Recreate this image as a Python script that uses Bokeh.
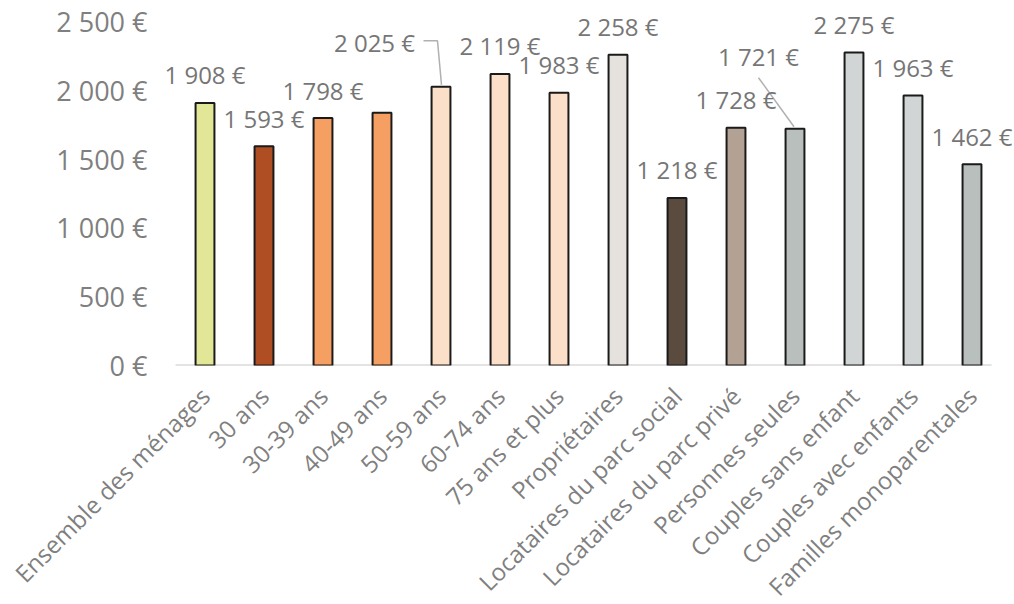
from bokeh.plotting import figure
from bokeh.models import Range1d, FixedTicker, ColumnDataSource, LabelSet
from bokeh.core.properties import value
from bokeh.embed import file_html
from bokeh.resources import INLINE

categories = ["Ensemble des ménages", "30 ans", "30-39 ans", "40-49 ans", "50-59 ans",
              "60-74 ans", "75 ans et plus", "Propriétaires", "Locataires du parc social",
              "Locataires du parc privé", "Personnes seules", "Couples sans enfant",
              "Couples avec enfants", "Familles monoparentales"]
values = [1908, 1593, 1798, 1837, 2025, 2119, 1983, 2258, 1218, 1728, 1721, 2275, 1963, 1462]
show_label = [True, True, True, False, True, True, True, True, True, True, True, True, True, True]
colors = ["#e2e697", "#ae4e22", "#f5a062", "#f5a062", "#fbdfc9", "#fbdfc9", "#fbdfc9",
          "#e5e1dc", "#5b4a3e", "#b3a194", "#b8bfbc", "#d1d5d5", "#d1d5d5", "#b8bfbc"]
y_ticks = [0, 500, 1000, 1500, 2000, 2500]

FONT = "Open Sans"
LEFT = 150            # frame left edge (px)
AXIS_START = 175      # where the category band starts (px)
CAT_PX = 59           # width of one category (px)
frame_w = 1014 - LEFT
frame_h = 365
y_top_px = 21  # pixel position of the 2500 tick from top of frame
y_max = y_ticks[-1] * frame_h / (frame_h - y_top_px)
px_per_unit = frame_h / y_max
n = len(categories)
x_start = -0.5 - (AXIS_START - LEFT) / CAT_PX
x_end = x_start + frame_w / CAT_PX

def fmt(v):
    return f"{v:,}".replace(",", " ") + " €"

xs = list(range(n))

p = figure(frame_width=frame_w, frame_height=frame_h, output_backend="svg",
           toolbar_location=None,
           x_range=Range1d(x_start, x_end), y_range=Range1d(0, y_max),
           min_border_left=LEFT, min_border_right=0, min_border_top=0,
           min_border_bottom=0)
p.outline_line_color = None
p.xgrid.visible = False
p.ygrid.visible = False
p.background_fill_color = "white"
p.border_fill_color = "white"

# baseline (category axis line)
p.segment(x0=[-0.5], y0=[0], x1=[n - 0.5 - 10 / CAT_PX], y1=[0], line_color="#c8c8c8",
          line_width=2)

src = ColumnDataSource(dict(x=xs, top=values, color=colors))
p.vbar(x="x", top="top", width=0.32, bottom=0, source=src, fill_color="color",
       line_color="#1a1a1a", line_width=2)

# Data labels (pixel shifts for the two moved labels are layout only)
shift = {"50-59 ans": (-66.5, 44), "Personnes seules": (-36.5, 72)}
lx, ly, lt, xo, yo = [], [], [], [], []
for i, (c, v, s) in enumerate(zip(categories, values, show_label)):
    if not s:
        continue
    dx, dy = shift.get(c, (0, 28))
    lx.append(i); ly.append(v); lt.append(fmt(v)); xo.append(dx); yo.append(dy)
lsrc = ColumnDataSource(dict(x=lx, y=ly, text=lt, xo=xo, yo=yo))
labels = LabelSet(x="x", y="y", text="text", x_offset="xo", y_offset="yo", source=lsrc,
                  text_align="center", text_baseline="middle", text_font=value(FONT),
                  text_font_size="24px", text_color="#767676")
p.add_layout(labels)

# Leader lines
def pt(i, v, dx, dy):
    return i + dx / CAT_PX, v - dy / px_per_unit

i5 = categories.index("50-59 ans"); v5 = values[i5]
a = [pt(i5, v5, -17.5, -46), pt(i5, v5, -3.5, -46), pt(i5, v5, 0.5, -2)]
i11 = categories.index("Personnes seules"); v11 = values[i11]
b = [pt(i11, v11, -36.5, -51), pt(i11, v11, -1, -2)]
p.multi_line(xs=[[q[0] for q in a], [q[0] for q in b]],
             ys=[[q[1] for q in a], [q[1] for q in b]],
             line_color="#b0b0b0", line_width=1.5)

# axes
p.yaxis.ticker = FixedTicker(ticks=y_ticks)
p.yaxis.major_label_overrides = {t: fmt(t) for t in y_ticks}
p.yaxis.axis_line_color = None
p.yaxis.major_tick_line_color = None
p.yaxis.minor_tick_line_color = None
p.yaxis.major_tick_out = 0
p.yaxis.major_label_standoff = 3
p.yaxis.major_label_text_font = FONT
p.yaxis.major_label_text_font_size = "27px"
p.yaxis.major_label_text_color = "#7f7f7f"

p.xaxis.ticker = FixedTicker(ticks=xs)
p.xaxis.major_label_overrides = {i: c for i, c in enumerate(categories)}
p.xaxis.axis_line_color = None
p.xaxis.major_tick_line_color = None
p.xaxis.minor_tick_line_color = None
p.xaxis.major_tick_out = 0
p.xaxis.major_label_standoff = 26
p.xaxis.major_label_orientation = 0.785398
p.xaxis.major_label_text_font = FONT
p.xaxis.major_label_text_font_size = "24px"
p.xaxis.major_label_text_color = "#7f7f7f"

open("out.html", "w").write(file_html(p, INLINE))
